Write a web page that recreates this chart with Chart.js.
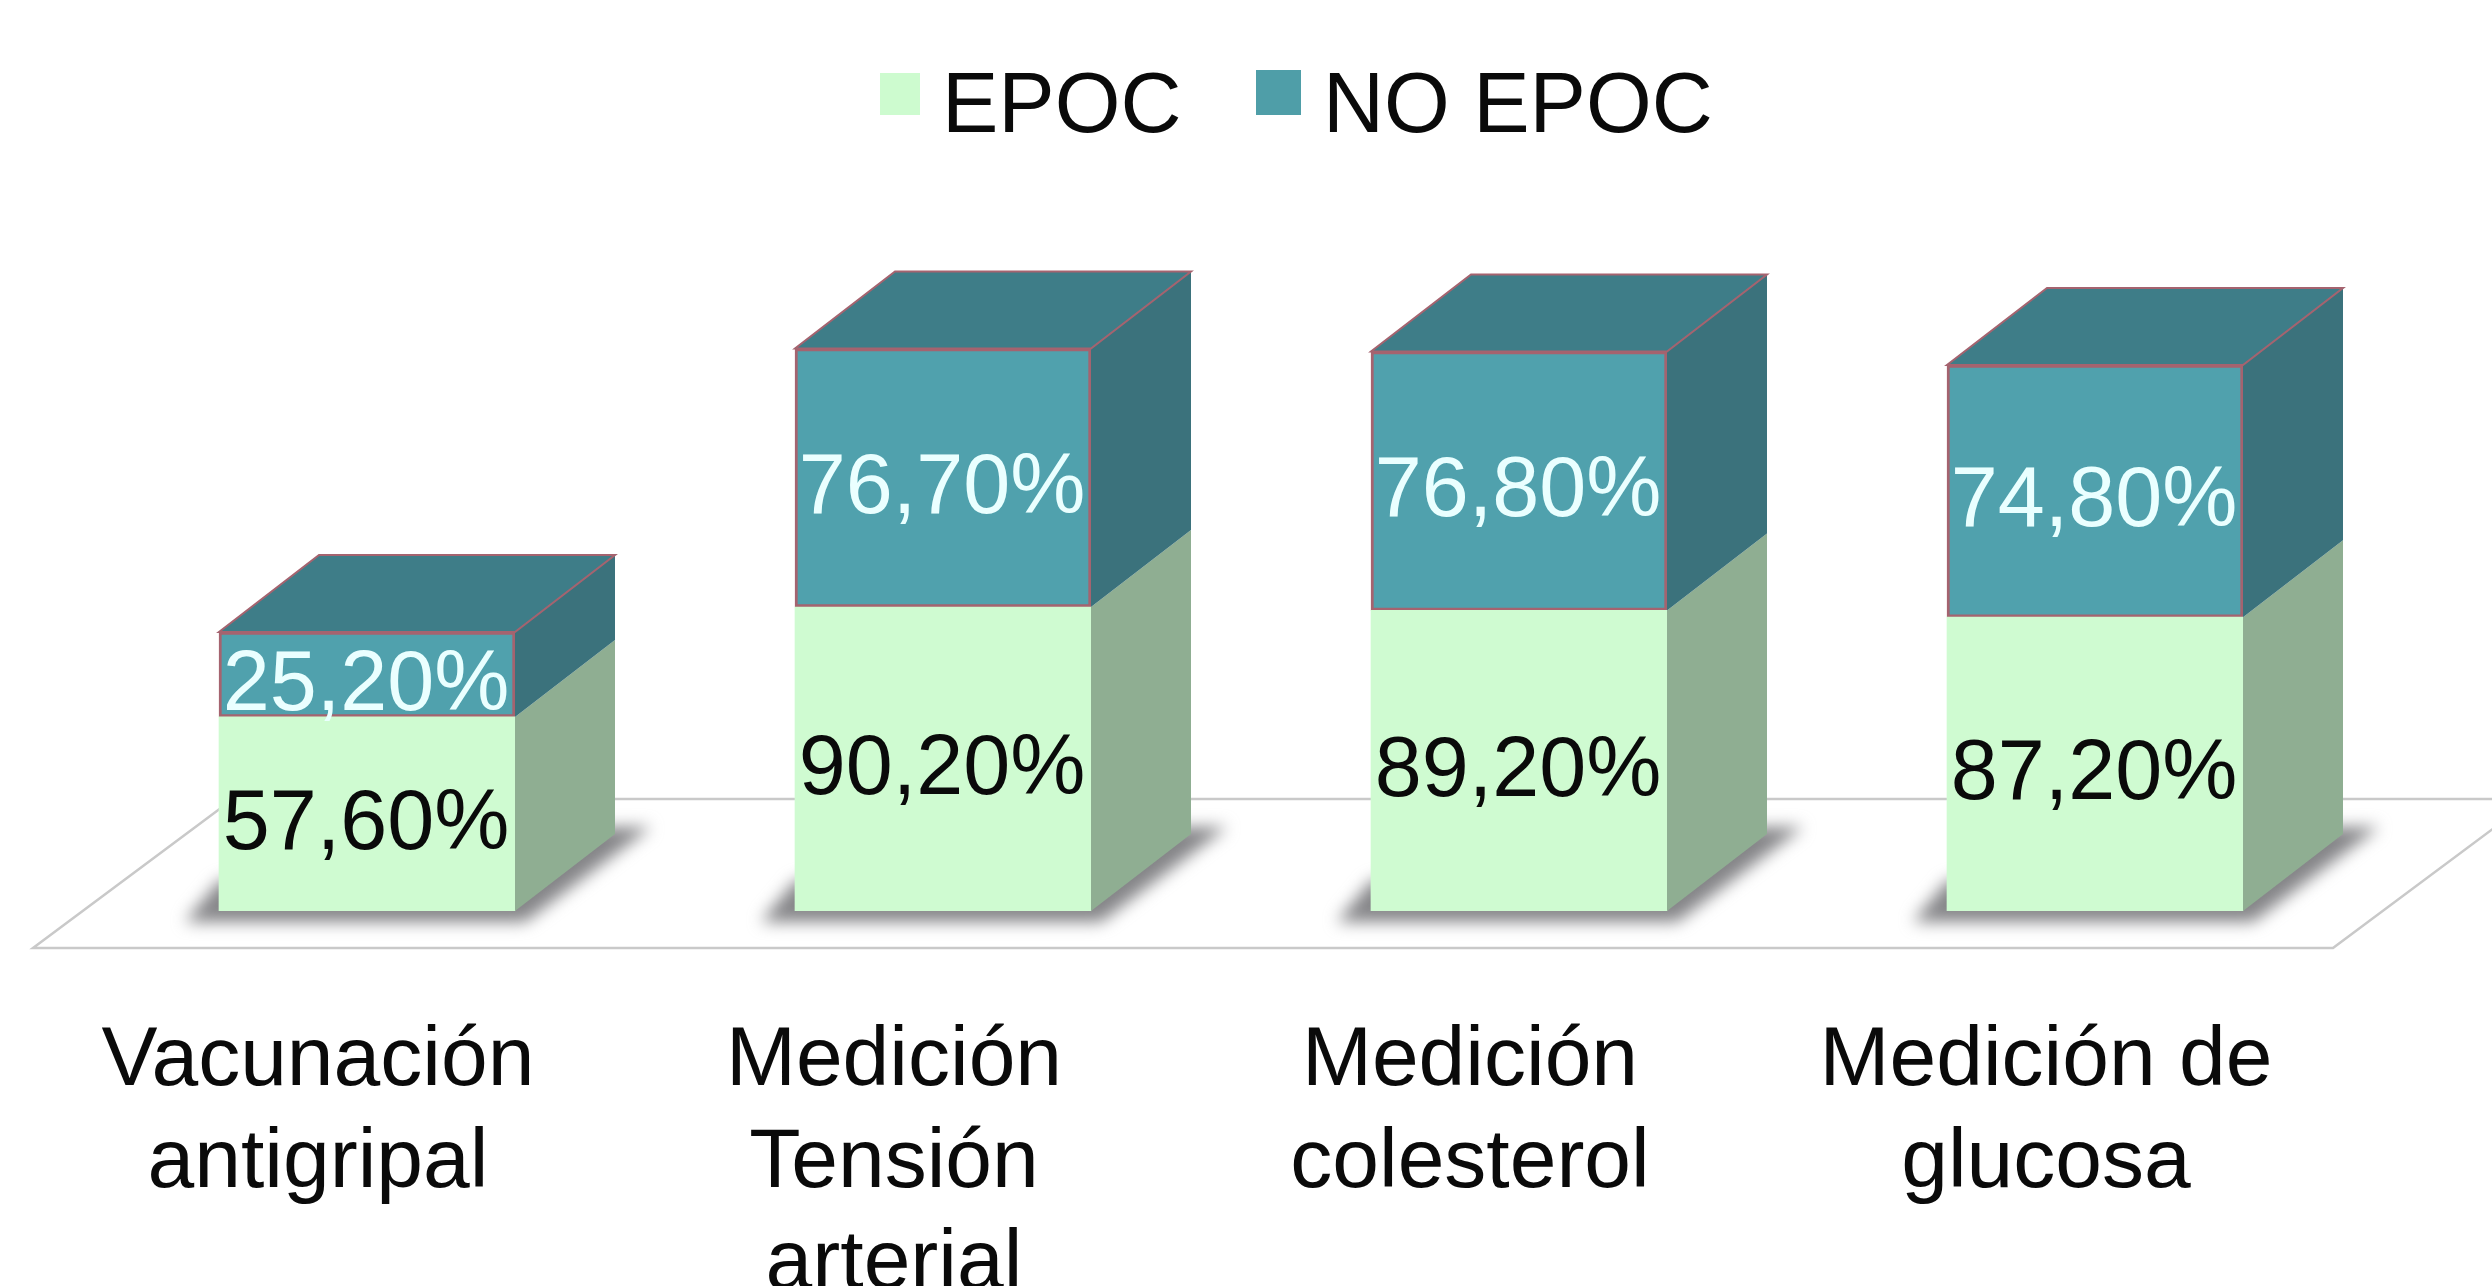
<!DOCTYPE html>
<html>
<head>
<meta charset="utf-8">
<title>EPOC / NO EPOC</title>
<script src="https://cdn.jsdelivr.net/npm/chart.js@4"></script>
<style>
    html, body { margin: 0; padding: 0; background: #fff; overflow: hidden; }
    canvas { display: block; }
</style>
</head>
<body>
<canvas id="chart" width="2492" height="1286"></canvas>
<script>
// data
const categories = [
    ['Vacunación', 'antigripal'],
    ['Medición', 'Tensión', 'arterial'],
    ['Medición', 'colesterol'],
    ['Medición de', 'glucosa'],
];
const seriesNames = ['EPOC', 'NO EPOC'];
const epocValues = [57.6, 90.2, 89.2, 87.2];
const noEpocValues = [25.2, 76.7, 76.8, 74.8];

const FONT = '"Liberation Sans", Arial, sans-serif';
const DEPTH_X = 100;
const DEPTH_Y = 77;
const EDGE = '#a5636f';

// front, side, top colours per series
const faces = [
    { front: '#cffbd1', side: '#8fae92', top: '#8fae92', text: '#0a0a0a' },
    { front: '#50a1ad', side: '#3b727c', top: '#3e7d88', text: '#eaffff' },
];

function polygon(ctx, pts) {
    ctx.beginPath();
    pts.forEach((p, i) => i ? ctx.lineTo(p[0], p[1]) : ctx.moveTo(p[0], p[1]));
    ctx.closePath();
}

const percent = v => v.toFixed(2).replace('.', ',') + '%';

const boxes3d = {
    id: 'boxes3d',
    beforeDatasetsDraw(chart) {
        const ctx = chart.ctx;
        const y0 = chart.scales.y.getPixelForValue(0);

        // floor plane
        ctx.save();
        ctx.strokeStyle = '#c9c9c9';
        ctx.lineWidth = 2.5;
        polygon(ctx, [[33, y0 + 37], [2333, y0 + 37], [2533, y0 - 112], [233, y0 - 112]]);
        ctx.stroke();
        ctx.restore();

        // soft shadow under each box
        chart.getDatasetMeta(0).data.forEach(bar => {
            const L = bar.x - bar.width / 2, R = bar.x + bar.width / 2;
            ctx.save();
            ctx.filter = 'blur(8px)';
            ctx.fillStyle = '#858588';
            polygon(ctx, [[L - 34, y0 + 11], [R + 10, y0 + 11], [R + 136, y0 - 84], [R + 85, y0 - 84], [L, y0 - 30]]);
            ctx.fill();
            ctx.restore();
        });
    },
    afterDatasetsDraw(chart) {
        const ctx = chart.ctx;
        const last = chart.data.datasets.length - 1;

        chart.data.datasets.forEach((ds, d) => {
            chart.getDatasetMeta(d).data.forEach((bar, i) => {
                const R = bar.x + bar.width / 2, L = bar.x - bar.width / 2;
                const top = bar.y, base = bar.base;

                // right side
                polygon(ctx, [[R, base], [R + DEPTH_X, base - DEPTH_Y], [R + DEPTH_X, top - DEPTH_Y], [R, top]]);
                ctx.fillStyle = faces[d].side;
                ctx.fill();
                if (d === last) {
                    ctx.strokeStyle = EDGE;
                    ctx.lineWidth = 2;
                    // lid of the stack
                    polygon(ctx, [[L, top], [R, top], [R + DEPTH_X, top - DEPTH_Y], [L + DEPTH_X, top - DEPTH_Y]]);
                    ctx.fillStyle = faces[d].top;
                    ctx.fill();
                    ctx.stroke();
                }
            });
        });

        // value labels on the front faces
        ctx.save();
        ctx.font = '84.5px ' + FONT;
        ctx.textAlign = 'center';
        ctx.textBaseline = 'middle';
        chart.data.datasets.forEach((ds, d) => {
            ctx.fillStyle = faces[d].text;
            chart.getDatasetMeta(d).data.forEach((bar, i) => {
                ctx.fillText(percent(ds.data[i]), bar.x - 1, (bar.y + bar.base) / 2 + 12);
            });
        });
        ctx.restore();

        // legend
        ctx.save();
        ctx.font = '84.5px ' + FONT;
        ctx.textBaseline = 'alphabetic';
        ctx.textAlign = 'left';
        ctx.fillStyle = '#cdfbcf';
        ctx.fillRect(880, 73, 40, 42);
        ctx.fillStyle = '#4f9ea8';
        ctx.fillRect(1256, 70, 45, 45);
        ctx.fillStyle = '#0a0a0a';
        ctx.fillText(seriesNames[0], 942, 132);
        ctx.fillText(seriesNames[1], 1323, 132);
        ctx.restore();
    },
};

new Chart(document.getElementById('chart'), {
    type: 'bar',
    data: {
        labels: categories,
        datasets: [
            {
                label: seriesNames[0],
                data: epocValues,
                backgroundColor: faces[0].front,
                borderWidth: 0,
            },
            {
                label: seriesNames[1],
                data: noEpocValues,
                backgroundColor: faces[1].front,
                borderColor: EDGE,
                borderWidth: 3,
                borderSkipped: false,
            },
        ],
    },
    options: {
        responsive: false,
        devicePixelRatio: 1,
        animation: false,
        layout: { padding: { left: 79, right: 109, top: 237, bottom: 0 } },
        datasets: { bar: { barThickness: 296 } },
        plugins: { legend: { display: false }, tooltip: { enabled: false } },
        scales: {
            x: {
                stacked: true,
                grid: { display: false },
                border: { display: false },
                afterFit: s => { s.height = 375; },
                ticks: {
                    autoSkip: false,
                    maxRotation: 0,
                    padding: 92,
                    labelOffset: -49,
                    color: '#0a0a0a',
                    font: { family: FONT, size: 84, lineHeight: 1.21 },
                },
            },
            y: { stacked: true, display: false, min: 0, max: 200 },
        },
    },
    plugins: [boxes3d],
});
</script>
</body>
</html>
